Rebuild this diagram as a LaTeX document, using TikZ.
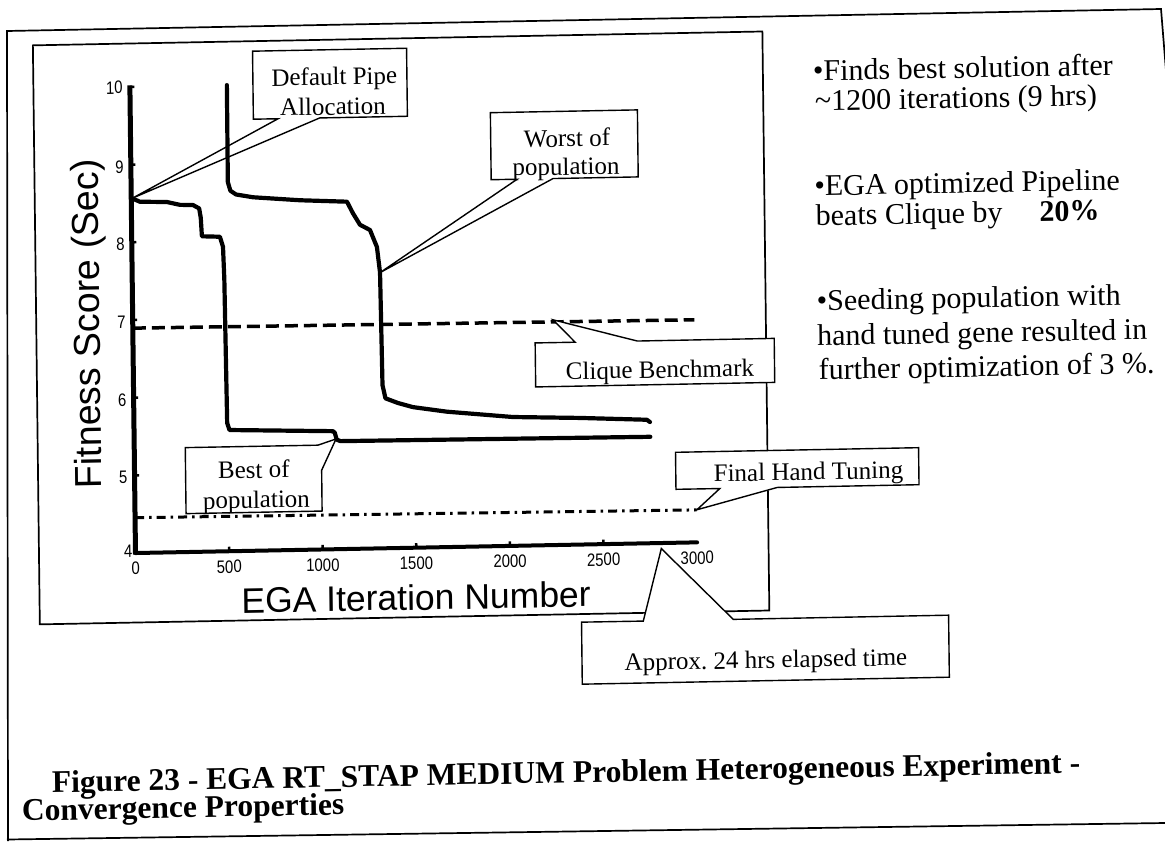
\documentclass[tikz,border=0pt]{standalone}
\usepackage{fontspec}
\usepackage{graphicx}
\setmainfont{Liberation Serif}
\newfontfamily\arialfont{Liberation Sans}
\usetikzlibrary{calc}
\tikzset{
  frameline/.style={line width=1.7pt},
  cbox/.style={rectangle, inner sep=0pt, outer sep=0pt},
  callout/.style={draw, fill=white, line width=1.4pt, line join=miter},
  ctext/.style={font=\fontsize{25}{25}\selectfont, inner sep=0pt, anchor=base},
  rtext/.style={font=\fontsize{30}{30}\selectfont, inner sep=0pt, anchor=base west},
  captext/.style={font=\fontsize{31.5}{31.5}\selectfont\bfseries, inner sep=0pt, anchor=base west},
  ticklab/.style={font=\arialfont\fontsize{18}{18}\selectfont, inner sep=0pt},
  axlab/.style={font=\arialfont\fontsize{35.5}{35.5}\selectfont, inner sep=0pt, anchor=base},
  curve/.style={line width=4.2pt, line join=round, line cap=round},
  tickmark/.style={line width=2.5pt},
  datascope/.style={shift={(134,855.22)}, x=0.1872pt, y=77.68pt},
}
\begin{document}
\begin{tikzpicture}[x=1pt,y=-1pt]
\useasboundingbox (0,0) rectangle (1165,841);
\fill[white] (0,0) rectangle (1165,841);
% outer frame (scan coordinates)
\draw[frameline] (8,841) -- (7,31) -- (1161,9) -- (1170,120);
\draw[frameline] (7,839.5) -- (1165,823);

\begin{scope}[cm={1,0.019,-0.012,1,(-5.04pt,-11.06pt)}, transform shape]
% plot frame
\node[draw, frameline, minimum width=729.5pt, minimum height=579pt, inner sep=0pt] (plotframe) at (402.25,324.5) {};

% Default Pipe callout box (drawn below the curves)
\node[cbox, minimum width=154pt, minimum height=68pt] (dpbox) at (334,79) {};

\begin{scope}[datascope]
  \coordinate (dpapex) at (8,8.57);
  \coordinate (woapex) at (1324,7.55);
  \coordinate (beapex) at (1078,5.42);
  \coordinate (clapex) at (2244,6.90);
  \coordinate (fhapex) at (3000,4.42);
  \coordinate (apapex) at (2808,3.93);
\end{scope}

\coordinate (dpb1) at ($(dpbox.south west)!0.16!(dpbox.south east)$);
\coordinate (dpb2) at ($(dpbox.south west)!0.43!(dpbox.south east)$);
\draw[callout] (dpbox.north west) -- (dpbox.north east) -- (dpbox.south east) -- (dpb2) -- (dpapex) -- (dpb1) -- (dpbox.south west) -- cycle;

\begin{scope}[datascope]
  % axes
  \draw[line width=5pt] (0,10.02) -- (0,3.98);
  \draw[line width=4pt, line cap=round] (0,4) -- (3000,4);
  \foreach \f in {5,...,10} \draw[tickmark] (0,\f) -- ++(4.5pt,0);
  \foreach \i in {500,1000,...,2500} \draw[tickmark] (\i,4) -- ++(0,4.5pt);
  % tick labels
  \foreach \f in {5,...,9} \node[ticklab, anchor=east] (yl\f) at (0,\f) [xshift=-7pt, yshift=-2pt] {\scalebox{0.83}[1]{\f}};
  \node[ticklab, anchor=east] (yl10) at (0,10) [xshift=-7pt, yshift=-0.5pt] {\scalebox{0.83}[1]{10}};
  \node[ticklab, anchor=east] (yl4) at (0,4) [xshift=-3pt, yshift=2pt] {\scalebox{0.83}[1]{4}};
  \foreach \i in {0,500,1000,...,3000} \node[ticklab, anchor=north] (xl\i) at (\i,4) [yshift=-9pt] {\scalebox{0.83}[1]{\i}};
  % benchmark lines
  \draw[line width=3.5pt, dash pattern=on 13pt off 6pt] (0,6.895) -- (3000,6.865);
  \draw[line width=3pt, dash pattern=on 9pt off 5pt on 2.5pt off 5pt] (0,4.455) -- (3000,4.418);
  % best of population
  \draw[curve] (0,8.57) -- (46,8.52) -- (190,8.51) -- (260,8.47) -- (329,8.465) -- (362,8.42) -- (370,8.30) -- (375,8.06) -- (471,8.05) -- (487,7.92) -- (492,7.5) -- (498,5.65) -- (510,5.56) -- (1062,5.52) -- (1072,5.50) -- (1082,5.41) -- (1102,5.39) -- (2757,5.37);
  % worst of population
  \draw[curve] (518,10) -- (517,8.75) -- (530,8.64) -- (560,8.59) -- (650,8.55) -- (901,8.50) -- (1152,8.47) -- (1183,8.32) -- (1220,8.17) -- (1273,8.10) -- (1309,7.88) -- (1324,7.55) -- (1330,6.1) -- (1345,5.93) -- (1411,5.867) -- (1491,5.81) -- (1672,5.743) -- (2025,5.658) -- (2382,5.63) -- (2740,5.59) -- (2756,5.56);
\end{scope}

% axis labels
\node[axlab, rotate=90, font=\arialfont\fontsize{37.5}{37.5}\selectfont] (ylabel) at (101,314.6) {Fitness Score (Sec)};
\node[axlab] (xlabel) at (414,606.8) {EGA Iteration Number};

% Default Pipe text
\node[ctext] (dpt1) at (338.5,80.3) {Default Pipe};
\node[ctext] (dpt2) at (336.7,110.3) {Allocation};

% Worst of population
\node[cbox, minimum width=147pt, minimum height=67pt] (wobox) at (567.5,144.5) {};
\coordinate (wob1) at ($(wobox.south west)!0.176!(wobox.south east)$);
\coordinate (wob2) at ($(wobox.south west)!0.42!(wobox.south east)$);
\draw[callout] (wobox.north west) -- (wobox.north east) -- (wobox.south east) -- (wob2) -- (woapex) -- (wob1) -- (wobox.south west) -- cycle;
\node[ctext] (wot1) at (570.3,146.4) {Worst of};
\node[ctext] (wot2) at (569,174.7) {population};

% Best of population
\node[cbox, minimum width=136pt, minimum height=66pt] (bebox) at (253,473) {};
\coordinate (beb1) at ($(bebox.north west)!0.975!(bebox.north east)$);
\coordinate (beb2) at ($(bebox.north east)!0.38!(bebox.south east)$);
\draw[callout] (bebox.north west) -- (beb1) -- (beapex) -- (beb2) -- (bebox.south east) -- (bebox.south west) -- cycle;
\node[ctext] (bet1) at (253.3,471.8) {Best of};
\node[ctext] (bet2) at (255.5,501.8) {population};

% Clique Benchmark
\node[cbox, minimum width=239pt, minimum height=44pt] (clbox) at (655.5,364) {};
\coordinate (clb1) at ($(clbox.north west)!0.167!(clbox.north east)$);
\coordinate (clb2) at ($(clbox.north west)!0.427!(clbox.north east)$);
\draw[callout] (clbox.north west) -- (clb1) -- (clapex) -- (clb2) -- (clbox.north east) -- (clbox.south east) -- (clbox.south west) -- cycle;
\node[ctext] (clt) at (660.5,379.5) {Clique Benchmark};

% Final Hand Tuning
\node[cbox, minimum width=243pt, minimum height=37pt] (fhbox) at (796.5,472.5) {};
\coordinate (fhb1) at ($(fhbox.south west)!0.18!(fhbox.south east)$);
\coordinate (fhb2) at ($(fhbox.south west)!0.416!(fhbox.south east)$);
\draw[callout] (fhbox.north west) -- (fhbox.north east) -- (fhbox.south east) -- (fhb2) -- (fhapex) -- (fhb1) -- (fhbox.south west) -- cycle;
\node[ctext] (fht) at (807.8,484.3) {Final Hand Tuning};

% Approx. 24 hrs
\node[cbox, minimum width=367pt, minimum height=62pt] (apbox) at (762.5,653) {};
\coordinate (apb1) at ($(apbox.north west)!0.168!(apbox.north east)$);
\coordinate (apb2) at ($(apbox.north west)!0.413!(apbox.north east)$);
\draw[callout] (apbox.north west) -- (apb1) -- (apapex) -- (apb2) -- (apbox.north east) -- (apbox.south east) -- (apbox.south west) -- cycle;
\node[ctext] (apt) at (763,671.5) {Approx.\ 24 hrs elapsed time};

% right-hand notes
\node[rtext] (r1) at (817,85.2) {•Finds best solution after};
\node[rtext] (r2) at (818.5,115.2) {\textasciitilde 1200 iterations (9 hrs)};
\node[rtext] (r3) at (817,200.2) {•EGA optimized Pipeline};
\node[rtext] (r4) at (818,230.2) {beats Clique by\hspace{37pt}\textbf{20\%}};
\node[rtext] (r5) at (818,315.2) {•Seeding population with};
\node[rtext] (r6) at (818,350.2) {hand tuned gene resulted in};
\node[rtext] (r7) at (819,384.2) {further optimization of 3 \%.};

% caption
\node[captext] (cap1) at (47.6,782.5) {Figure 23 - EGA RT\_STAP MEDIUM Problem Heterogeneous Experiment -};
\node[captext] (cap2) at (17.2,810) {Convergence Properties};
\end{scope}
\end{tikzpicture}
\end{document}
